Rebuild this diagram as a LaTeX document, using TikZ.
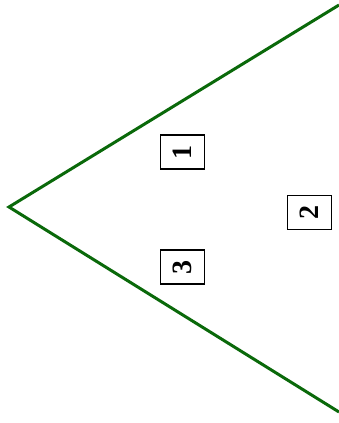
\documentclass[tikz,border=0pt]{standalone}
\usepackage{fontspec}
\setmainfont{Liberation Serif}
\begin{document}
\begin{tikzpicture}[x=1pt,y=-1pt,
  numbox/.style={draw=black,line width=1.5pt,rotate=90,minimum width=34pt,minimum height=44pt,inner sep=0pt,font=\fontsize{28}{28}\selectfont\bfseries},
  edge/.style={draw={rgb,255:red,10;green,105;blue,10},line width=3pt}]
\useasboundingbox (0,0) rectangle (339,423);
\coordinate (top) at (339,5);
\coordinate (apex) at (9,207);
\coordinate (bot) at (339,412);
\draw[edge,line join=miter] (top) -- (apex) -- (bot);
\node[numbox] (b1) at (182.5,152) {1};
\node[numbox] (b2) at (309.5,212.5) {2};
\node[numbox] (b3) at (182.5,267) {3};
\end{tikzpicture}
\end{document}
